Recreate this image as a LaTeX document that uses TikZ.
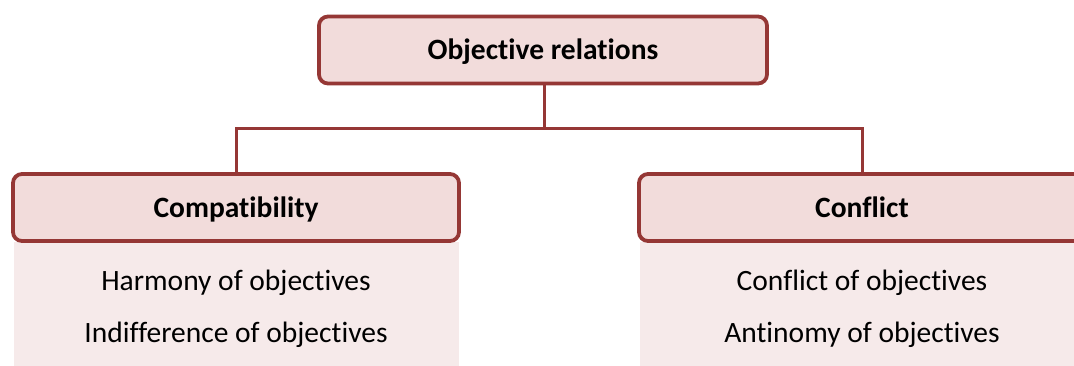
\documentclass[tikz,border=0pt]{standalone}
\usepackage{fontspec}
\setmainfont{Carlito}[RawFeature=-liga]
\definecolor{bordred}{HTML}{953735}
\definecolor{headfill}{HTML}{F2DCDB}
\definecolor{bodyfill}{HTML}{F6EAEA}
\tikzset{
  headbox/.style={draw=bordred, fill=headfill, line width=3.8pt, rounded corners=9pt,
    minimum height=67pt, inner sep=0pt, text height=19pt, text depth=0pt,
    font=\fontsize{29.5}{34}\selectfont\bfseries},
  bodybox/.style={fill=bodyfill, draw=none, inner sep=0pt, minimum height=125pt,
    anchor=north},
  bodytext/.style={font=\fontsize{29.5}{34}\selectfont, anchor=base, inner sep=0pt},
  conn/.style={draw=bordred, line width=3pt},
}
\begin{document}
\begin{tikzpicture}[x=1pt,y=-1pt]
\useasboundingbox (0,0) rectangle (1074,365);
\clip (0,0) rectangle (1074,365);
\fill[white] (0,0) rectangle (1074,365);
% body panels
\node[bodybox, minimum width=445pt] (lbody) at (236,242) {};
\node[bodybox, minimum width=445pt] (rbody) at (862,242) {};
\node[bodytext] (l1) at (236,290) {Harmony of objectives};
\node[bodytext] (l2) at (236,342) {Indifference of objectives};
\node[bodytext] (r1) at (862,290) {Conflict of objectives};
\node[bodytext] (r2) at (862,342) {Antinomy of objectives};
% header boxes
\node[headbox, minimum width=448pt] (top) at (543,50) {Objective relations};
\node[headbox, minimum width=446pt] (left) at (236,207.5) {Compatibility};
\node[headbox, minimum width=446pt] (right) at (862,207.5) {Conflict};
% connectors
\coordinate (junc) at (544,128);
\draw[conn] ([xshift=1pt]top.south) -- (junc);
\draw[conn] (left.north) |- (junc) -| (right.north);
\end{tikzpicture}
\end{document}
